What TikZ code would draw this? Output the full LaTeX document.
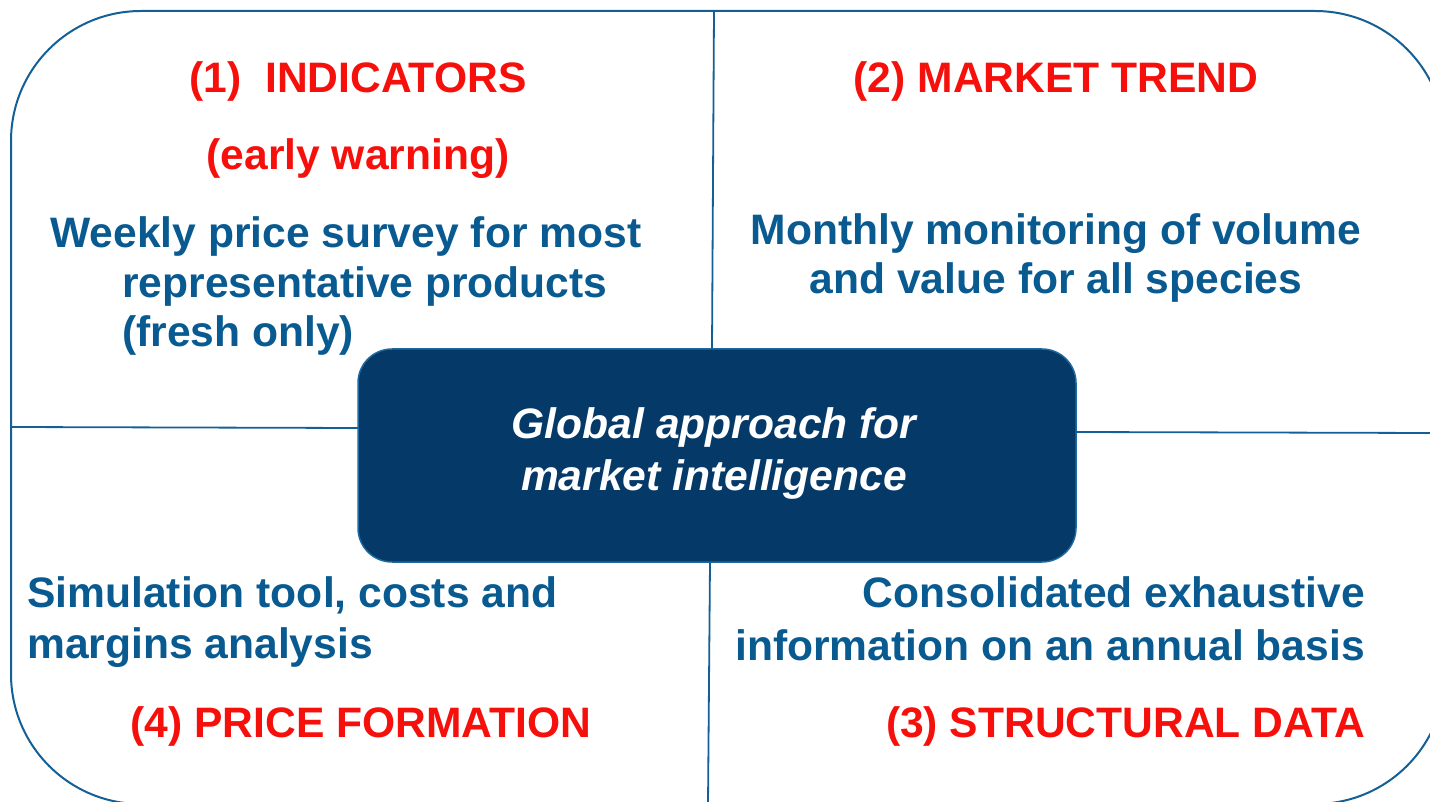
\documentclass[tikz,border=0pt]{standalone}
\usepackage{fontspec}
\setmainfont{Liberation Sans}
\definecolor{frameblue}{RGB}{20,95,150}
\definecolor{textblue}{RGB}{8,90,145}
\definecolor{headred}{RGB}{245,16,12}
\definecolor{navy}{RGB}{4,57,104}
\definecolor{navyedge}{RGB}{30,105,160}
\tikzset{
  frame/.style={draw=frameblue, line width=2pt},
  divider/.style={draw=frameblue, line width=1.8pt},
  head/.style={inner sep=0pt, text=headred, font=\fontsize{42.6}{50}\selectfont\bfseries},
  body/.style={inner sep=0pt, text=textblue, font=\fontsize{42.6}{50}\selectfont\bfseries},
  hub/.style={draw=navyedge, line width=1.5pt, fill=navy, rounded corners=34pt,
    minimum width=718pt, minimum height=213pt, inner sep=0pt},
  hubtext/.style={inner sep=0pt, text=white, font=\fontsize{42.6}{50}\selectfont\bfseries\itshape}
}
\begin{document}
\begin{tikzpicture}[x=1pt,y=-1pt]
\useasboundingbox (0,0) rectangle (1430,802);
\clip (0,0) rectangle (1430,802);
\draw[frame, rounded corners=130pt] (11,11) rectangle (1445,804);
\node[hub] (c) at (717,455.5) {};
% dividers
\coordinate (t1) at (714,11);
\coordinate (t2) at (712,349);
\coordinate (b1) at (710,562);
\coordinate (b2) at (708,804);
\coordinate (l1) at (11,427);
\coordinate (l2) at (358,428);
\coordinate (r1) at (1076,432);
\coordinate (r2) at (1432,433);
\draw[divider] (t1) -- (t2);
\draw[divider] (b1) -- (b2);
\draw[divider] (l1) -- (l2);
\draw[divider] (r1) -- (r2);
% hub text
\node[hubtext, anchor=base] (h1) at (714,438) {Global approach for};
\node[hubtext, anchor=base] (h2) at (714,490) {market intelligence};
% quadrant 1
\node[head, anchor=base] (q1a) at (358,93) {(1)\ \ INDICATORS};
\node[head, anchor=base] (q1b) at (358,170) {(early warning)};
\node[body, anchor=base west] (q1c) at (50,248) {Weekly price survey for most};
\node[body, anchor=base west] (q1d) at (122,298) {representative products};
\node[body, anchor=base west] (q1e) at (122,347) {(fresh only)};
% quadrant 2
\node[head, anchor=base] (q2a) at (1056,93) {(2) MARKET TREND};
\node[body, anchor=base] (q2b) at (1056,245) {Monthly monitoring of volume};
\node[body, anchor=base] (q2c) at (1056,294) {and value for all species};
% quadrant 4
\node[body, anchor=base west] (q4a) at (27,607) {Simulation tool, costs and};
\node[body, anchor=base west] (q4b) at (27,658) {margins analysis};
\node[head, anchor=base] (q4c) at (361,737) {(4) PRICE FORMATION};
% quadrant 3
\node[body, anchor=base east] (q3a) at (1365,607) {Consolidated exhaustive};
\node[body, anchor=base east] (q3b) at (1365,660) {information on an annual basis};
\node[head, anchor=base east] (q3c) at (1365,737) {(3) STRUCTURAL DATA};
\end{tikzpicture}
\end{document}
